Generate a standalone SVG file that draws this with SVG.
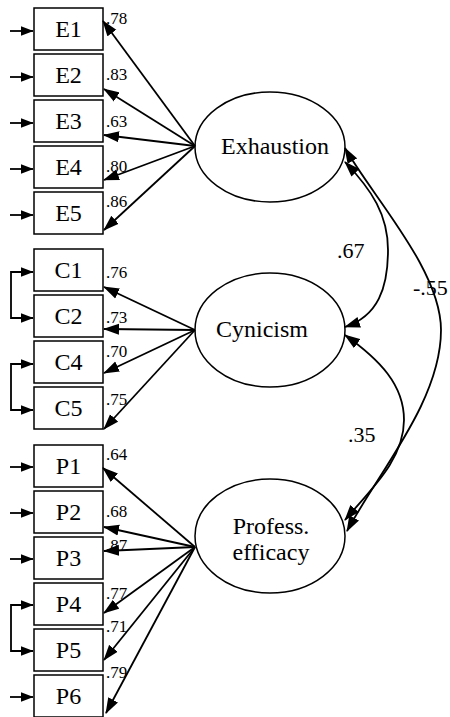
<svg xmlns="http://www.w3.org/2000/svg" width="450" height="717" viewBox="0 0 450 717">
  <style>
    .box { fill: #fff; stroke: #000; stroke-width: 1.5; }
    .lat { fill: #fff; stroke: #000; stroke-width: 1.5; }
    .lbl { font-family: 'Times New Roman', 'Liberation Serif', serif; font-size: 24px; text-anchor: middle; fill: #000; }
    .ld { font-family: 'Times New Roman', 'Liberation Serif', serif; font-size: 17px; fill: #000; }
    .cr { font-family: 'Times New Roman', 'Liberation Serif', serif; font-size: 22px; fill: #000; }
    .ln { fill: none; stroke: #000; stroke-width: 1.8; }
    .arr { marker-end: url(#ah); }
    .both { marker-start: url(#ah); marker-end: url(#ah); }
    .err { fill: none; stroke: #000; stroke-width: 1.8; marker-end: url(#ahs); }
    .errc { fill: none; stroke: #000; stroke-width: 1.8; marker-start: url(#ahs); marker-end: url(#ahs); }
  </style>
  <defs>
    <marker id="ah" markerUnits="userSpaceOnUse" viewBox="0 0 16 12" markerWidth="16" markerHeight="12" refX="15" refY="6" orient="auto-start-reverse">
      <path d="M0,0.5 L16,6 L0,11.5 Z" fill="#000"/>
    </marker>
    <marker id="ahs" markerUnits="userSpaceOnUse" viewBox="0 0 13 11" markerWidth="13" markerHeight="11" refX="12.5" refY="5.5" orient="auto-start-reverse">
      <path d="M0,0.5 L13,5.5 L0,10.5 Z" fill="#000"/>
    </marker>
  </defs>

  <!-- error terms -->
  <g id="errors">
    <path class="err" d="M10,31 H33"/>
    <path class="err" d="M10,77 H33"/>
    <path class="err" d="M10,123 H33"/>
    <path class="err" d="M10,169 H33"/>
    <path class="err" d="M10,215 H33"/>
    <path class="errc" d="M33,272 H11 V318 H33"/>
    <path class="errc" d="M33,364 H11 V410 H33"/>
    <path class="err" d="M10,467 H33"/>
    <path class="err" d="M10,513 H33"/>
    <path class="err" d="M10,559 H33"/>
    <path class="errc" d="M33,605 H11 V651 H33"/>
    <path class="err" d="M10,697 H33"/>
  </g>

  <!-- observed indicators -->
  <g id="E1"><rect class="box" x="34" y="8" width="69" height="42"/><text class="lbl" x="68.5" y="37">E1</text></g>
  <g id="E2"><rect class="box" x="34" y="54" width="69" height="42"/><text class="lbl" x="68.5" y="83">E2</text></g>
  <g id="E3"><rect class="box" x="34" y="100" width="69" height="42"/><text class="lbl" x="68.5" y="129">E3</text></g>
  <g id="E4"><rect class="box" x="34" y="146" width="69" height="42"/><text class="lbl" x="68.5" y="175">E4</text></g>
  <g id="E5"><rect class="box" x="34" y="192" width="69" height="42"/><text class="lbl" x="68.5" y="221">E5</text></g>

  <g id="C1"><rect class="box" x="34" y="249" width="69" height="42"/><text class="lbl" x="68.5" y="278">C1</text></g>
  <g id="C2"><rect class="box" x="34" y="295" width="69" height="42"/><text class="lbl" x="68.5" y="324">C2</text></g>
  <g id="C4"><rect class="box" x="34" y="341" width="69" height="42"/><text class="lbl" x="68.5" y="370">C4</text></g>
  <g id="C5"><rect class="box" x="34" y="387" width="69" height="42"/><text class="lbl" x="68.5" y="416">C5</text></g>

  <g id="P1"><rect class="box" x="34" y="445" width="69" height="42"/><text class="lbl" x="68.5" y="474">P1</text></g>
  <g id="P2"><rect class="box" x="34" y="491" width="69" height="42"/><text class="lbl" x="68.5" y="520">P2</text></g>
  <g id="P3"><rect class="box" x="34" y="537" width="69" height="42"/><text class="lbl" x="68.5" y="566">P3</text></g>
  <g id="P4"><rect class="box" x="34" y="583" width="69" height="42"/><text class="lbl" x="68.5" y="612">P4</text></g>
  <g id="P5"><rect class="box" x="34" y="629" width="69" height="42"/><text class="lbl" x="68.5" y="658">P5</text></g>
  <g id="P6"><rect class="box" x="34" y="675" width="69" height="42"/><text class="lbl" x="68.5" y="704">P6</text></g>

  <!-- latent factors -->
  <g id="Exhaustion"><ellipse class="lat" cx="270" cy="147" rx="75" ry="55"/><text class="lbl" x="275" y="154">Exhaustion</text></g>
  <g id="Cynicism"><ellipse class="lat" cx="270" cy="330" rx="75" ry="57"/><text class="lbl" x="262" y="337">Cynicism</text></g>
  <g id="ProfessEfficacy"><ellipse class="lat" cx="270" cy="536" rx="75" ry="57"/><text class="lbl" x="271" y="534">Profess.</text><text class="lbl" x="271" y="560">efficacy</text></g>

  <!-- loadings and correlations -->
  <g id="connectors">
    <path class="ln arr" d="M195,146 L103,21"/>
    <path class="ln arr" d="M195,146 L104,89"/>
    <path class="ln arr" d="M195,146 L104,135"/>
    <path class="ln arr" d="M195,146 L104,180"/>
    <path class="ln arr" d="M195,146 L104,230"/>

    <path class="ln arr" d="M195,330 L104,287"/>
    <path class="ln arr" d="M195,330 L104,329"/>
    <path class="ln arr" d="M195,330 L104,373"/>
    <path class="ln arr" d="M195,330 L104,429"/>

    <path class="ln arr" d="M195,547 L103,468"/>
    <path class="ln arr" d="M195,547 L104,527"/>
    <path class="ln arr" d="M195,547 L104,551"/>
    <path class="ln arr" d="M195,547 L104,613"/>
    <path class="ln arr" d="M195,547 L104,660"/>
    <path class="ln arr" d="M195,547 L106,713"/>

    <path class="ln both" d="M345,162 C372,190 388,215 388,250 C388,288 378,316 345,327"/>
    <path class="ln both" d="M345,148 C372,196 441,270 441,330 C441,400 380,470 347,531"/>
    <path class="ln both" d="M345,335 C380,360 404,385 404,420 C404,460 370,490 345,520"/>
  </g>

  <!-- coefficient labels -->
  <g id="labels">
    <text class="ld" x="106" y="24">.78</text>
    <text class="ld" x="106" y="80">.83</text>
    <text class="ld" x="106" y="127">.63</text>
    <text class="ld" x="106" y="172">.80</text>
    <text class="ld" x="106" y="207">.86</text>
    <text class="ld" x="106" y="278">.76</text>
    <text class="ld" x="106" y="323">.73</text>
    <text class="ld" x="106" y="357">.70</text>
    <text class="ld" x="106" y="405">.75</text>
    <text class="ld" x="106" y="460">.64</text>
    <text class="ld" x="106" y="517">.68</text>
    <text class="ld" x="106" y="551">.87</text>
    <text class="ld" x="106" y="599">.77</text>
    <text class="ld" x="106" y="632">.71</text>
    <text class="ld" x="106" y="678">.79</text>
    <text class="cr" x="337" y="258">.67</text>
    <text class="cr" x="348" y="442">.35</text>
    <text class="cr" x="413" y="295">-.55</text>
  </g>
</svg>
